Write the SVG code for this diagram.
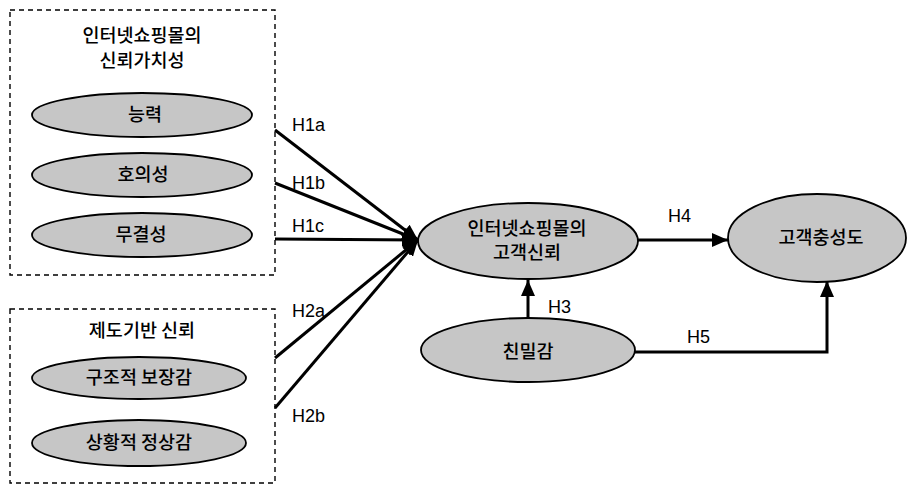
<svg xmlns="http://www.w3.org/2000/svg" width="911" height="485" viewBox="0 0 911 485">
  <style>
    .box { fill: none; stroke: #000; stroke-width: 1.4; stroke-dasharray: 5 4; }
    .node { fill: #c6c6c6; stroke: #000; stroke-width: 1.8; }
    .ko { font-family: "Noto Sans CJK KR", "Noto Sans", sans-serif; font-size: 18.5px; font-weight: 500; fill: #000; text-anchor: middle; }
    .lbl { font-family: "Liberation Sans", Arial, sans-serif; font-size: 18px; fill: #000; }
    .edge { fill: none; stroke: #000; stroke-width: 3; }
  </style>
  <defs>
    <marker id="arrow" markerUnits="userSpaceOnUse" markerWidth="16" markerHeight="14" refX="16" refY="7" orient="auto">
      <path d="M0,0 L16,7 L0,14 z" fill="#000"/>
    </marker>
  </defs>

  <rect width="911" height="485" fill="#fff"/>

  <!-- Group: trust value of the internet shopping mall -->
  <g id="group-trust-value">
    <rect class="box" x="10" y="10" width="265" height="265"/>
    <text class="ko" x="142" y="42">인터넷쇼핑몰의</text>
    <text class="ko" x="142" y="67">신뢰가치성</text>
  </g>
  <g id="node-ability">
    <ellipse class="node" cx="142" cy="115" rx="110" ry="22"/>
    <text class="ko" x="145" y="121">능력</text>
  </g>
  <g id="node-benevolence">
    <ellipse class="node" cx="142" cy="175" rx="110" ry="22"/>
    <text class="ko" x="143" y="181">호의성</text>
  </g>
  <g id="node-integrity">
    <ellipse class="node" cx="142" cy="235" rx="110" ry="22"/>
    <text class="ko" x="141" y="241">무결성</text>
  </g>

  <!-- Group: institution-based trust -->
  <g id="group-institution">
    <rect class="box" x="10" y="309" width="265" height="174"/>
    <text class="ko" x="142" y="337">제도기반 신뢰</text>
  </g>
  <g id="node-structural">
    <ellipse class="node" cx="139" cy="378" rx="107" ry="21"/>
    <text class="ko" x="139" y="384">구조적 보장감</text>
  </g>
  <g id="node-situational">
    <ellipse class="node" cx="139" cy="443" rx="107" ry="23"/>
    <text class="ko" x="139" y="449">상황적 정상감</text>
  </g>

  <!-- Central and outcome constructs -->
  <g id="node-customer-trust">
    <ellipse class="node" cx="528" cy="241" rx="110" ry="38"/>
    <text class="ko" x="527" y="235">인터넷쇼핑몰의</text>
    <text class="ko" x="527" y="259">고객신뢰</text>
  </g>
  <g id="node-loyalty">
    <ellipse class="node" cx="817" cy="238" rx="89" ry="44"/>
    <text class="ko" x="821" y="244">고객충성도</text>
  </g>
  <g id="node-intimacy">
    <ellipse class="node" cx="528" cy="350" rx="107" ry="32"/>
    <text class="ko" x="528" y="358">친밀감</text>
  </g>

  <!-- Hypothesis paths -->
  <g id="connectors">
    <line class="edge" x1="275" y1="130" x2="418" y2="240" marker-end="url(#arrow)"/>
    <line class="edge" x1="275" y1="183" x2="418" y2="240" marker-end="url(#arrow)"/>
    <line class="edge" x1="275" y1="239" x2="418" y2="240" marker-end="url(#arrow)"/>
    <line class="edge" x1="275" y1="358" x2="418" y2="240" marker-end="url(#arrow)"/>
    <line class="edge" x1="275" y1="408" x2="418" y2="240" marker-end="url(#arrow)"/>
    <line class="edge" x1="638" y1="240" x2="728" y2="240" marker-end="url(#arrow)"/>
    <line class="edge" x1="528" y1="318" x2="528" y2="280" marker-end="url(#arrow)"/>
    <polyline class="edge" points="635,352 827,352 827,281" marker-end="url(#arrow)"/>

    <text class="lbl" x="292" y="131">H1a</text>
    <text class="lbl" x="292" y="189">H1b</text>
    <text class="lbl" x="292" y="232">H1c</text>
    <text class="lbl" x="292" y="317">H2a</text>
    <text class="lbl" x="292" y="422">H2b</text>
    <text class="lbl" x="668" y="222">H4</text>
    <text class="lbl" x="548" y="313">H3</text>
    <text class="lbl" x="687" y="343">H5</text>
  </g>
</svg>
